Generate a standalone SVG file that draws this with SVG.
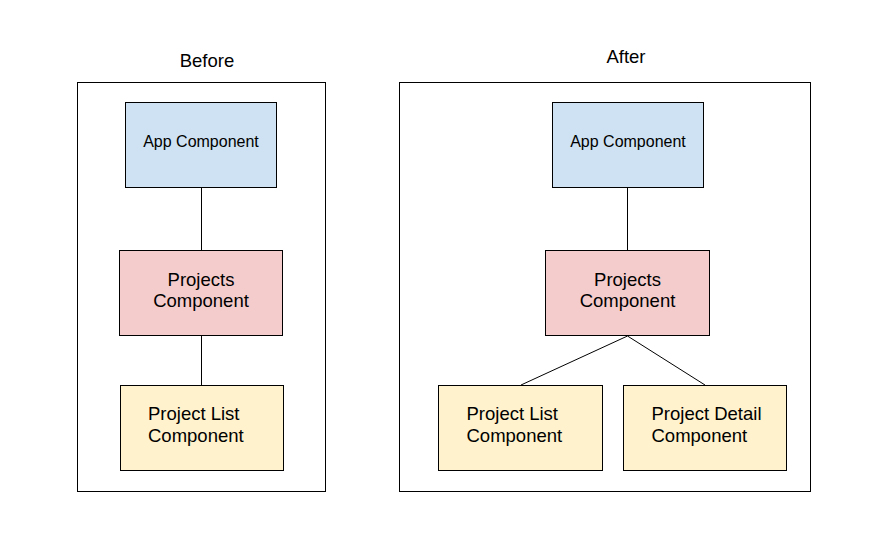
<svg xmlns="http://www.w3.org/2000/svg" width="886" height="560" viewBox="0 0 886 560">
<style>
text{font-family:"Liberation Sans",Arial,sans-serif;fill:#000}
.t{font-size:18.5px;text-anchor:middle}
.s{font-size:16px;text-anchor:middle}
.m{font-size:18.5px}
.c{text-anchor:middle}
.frame{fill:#fff;stroke:#000;stroke-width:1}
.app{fill:#cfe2f3;stroke:#000;stroke-width:1}
.proj{fill:#f4cccc;stroke:#000;stroke-width:1}
.leaf{fill:#fff2cc;stroke:#000;stroke-width:1}
.conn line{stroke:#000;stroke-width:1}
</style>
<rect width="886" height="560" fill="#fff"/>
<g id="before-frame">
<rect class="frame" x="77.5" y="82.5" width="248" height="409"/>
<text class="t" x="207" y="67">Before</text>
</g>
<g id="after-frame">
<rect class="frame" x="399.5" y="82.5" width="411" height="409"/>
<text class="t" x="626" y="63">After</text>
</g>
<g class="conn" id="connectors">
<line x1="201.5" y1="187" x2="201.5" y2="250"/>
<line x1="201.5" y1="336" x2="201.5" y2="385"/>
<line x1="627.5" y1="187" x2="627.5" y2="250"/>
<line x1="627.5" y1="336" x2="521" y2="385"/>
<line x1="627.5" y1="336" x2="705" y2="385"/>
</g>
<g id="before-app">
<rect class="app" x="125.5" y="102.5" width="151" height="85"/>
<text class="s" x="201" y="147">App Component</text>
</g>
<g id="before-projects">
<rect class="proj" x="119.5" y="250.5" width="163" height="85"/>
<text class="m c" x="201" y="285.5">Projects</text>
<text class="m c" x="201" y="306.5">Component</text>
</g>
<g id="before-list">
<rect class="leaf" x="120.5" y="385.5" width="163" height="85"/>
<text class="m" x="148" y="420">Project List</text>
<text class="m" x="148" y="441.5">Component</text>
</g>
<g id="after-app">
<rect class="app" x="552.5" y="102.5" width="151" height="85"/>
<text class="s" x="628" y="147">App Component</text>
</g>
<g id="after-projects">
<rect class="proj" x="545.5" y="250.5" width="164" height="85"/>
<text class="m c" x="627.5" y="285.5">Projects</text>
<text class="m c" x="627.5" y="306.5">Component</text>
</g>
<g id="after-list">
<rect class="leaf" x="438.5" y="385.5" width="164" height="85"/>
<text class="m" x="466.5" y="420">Project List</text>
<text class="m" x="466.5" y="441.5">Component</text>
</g>
<g id="after-detail">
<rect class="leaf" x="623.5" y="385.5" width="163" height="85"/>
<text class="m" x="651.5" y="420">Project Detail</text>
<text class="m" x="651.5" y="441.5">Component</text>
</g>
</svg>
